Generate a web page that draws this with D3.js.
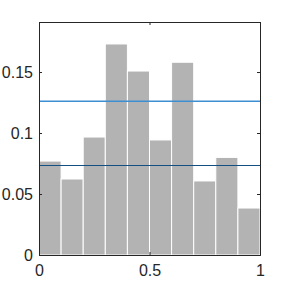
<!DOCTYPE html>
<html>
<head>
<meta charset="utf-8">
<script src="https://cdn.jsdelivr.net/npm/d3@7"></script>
<style>
  body { margin: 0; background: #fff; }
  svg { display: block; }
</style>
</head>
<body>
<svg id="chart" width="288" height="288"></svg>
<script>
// histogram bins (probability) over [0, 1]
const binEdges = [0, 0.1, 0.2, 0.3, 0.4, 0.5, 0.6, 0.7, 0.8, 0.9, 1];
const binValues = [0.077, 0.0623, 0.0967, 0.173, 0.1508, 0.0943, 0.158, 0.0607, 0.080, 0.0385];
// reference lines
const lineValues = [0.126, 0.0735];
const lineColors = ["#3d8ed3", "#134f80"];
const lineWidths = [1.5, 1];
const xTicks = [0, 0.5, 1];
const yTicks = [0, 0.05, 0.1, 0.15];

const margin = { left: 39, right: 28, top: 22, bottom: 33 };
const width = 288, height = 288;

const svg = d3.select("#chart");

const x = d3.scaleLinear().domain([0, 1]).range([margin.left, width - margin.right]);
const y = d3.scaleLinear().domain([0, 0.191]).range([height - margin.bottom, margin.top]);

const ink = "#262626";
const font = "Liberation Sans, Arial, sans-serif";

// bars
svg.append("g")
    .selectAll("rect")
    .data(binValues)
    .enter()
    .append("rect")
    .attr("x", (d, i) => x(binEdges[i]))
    .attr("width", (d, i) => x(binEdges[i + 1]) - x(binEdges[i]))
    .attr("y", d => y(d))
    .attr("height", d => y(0) - y(d))
    .attr("fill", "#b3b3b3")
    .attr("stroke", "#fff")
    .attr("stroke-width", 1);

// horizontal lines
svg.append("g")
    .selectAll("line")
    .data(lineValues)
    .enter()
    .append("line")
    .attr("x1", x(0))
    .attr("x2", x(1))
    .attr("y1", (d, i) => i ? Math.round(y(d)) + 0.5 : y(d))
    .attr("y2", (d, i) => i ? Math.round(y(d)) + 0.5 : y(d))
    .attr("stroke", (d, i) => lineColors[i])
    .attr("stroke-width", (d, i) => lineWidths[i]);

// axes (ticks inside, box style)
const tickLen = 3;
const axisL = d3.axisLeft(y).tickValues(yTicks).tickSize(-tickLen).tickPadding(6).tickFormat(d3.format("~g"));
const axisR = d3.axisRight(y).tickValues(yTicks).tickSize(-tickLen).tickFormat("");
const axisB = d3.axisBottom(x).tickValues(xTicks).tickSize(-tickLen).tickPadding(10).tickFormat(d3.format("~g"));
const axisT = d3.axisTop(x).tickValues(xTicks).tickSize(-tickLen).tickFormat("");

function style(g) {
    g.selectAll("path").attr("stroke", ink);
    g.selectAll("line").attr("stroke", ink);
    g.selectAll("text").attr("fill", ink).attr("font-size", 16).attr("font-family", font);
}

svg.append("g").attr("transform", `translate(${margin.left},0)`).call(axisL).call(style);
svg.append("g").attr("transform", `translate(${width - margin.right},0)`).call(axisR).call(style);
svg.append("g").attr("transform", `translate(0,${height - margin.bottom})`).call(axisB).call(style);
svg.append("g").attr("transform", `translate(0,${margin.top})`).call(axisT).call(style);
</script>
</body>
</html>
